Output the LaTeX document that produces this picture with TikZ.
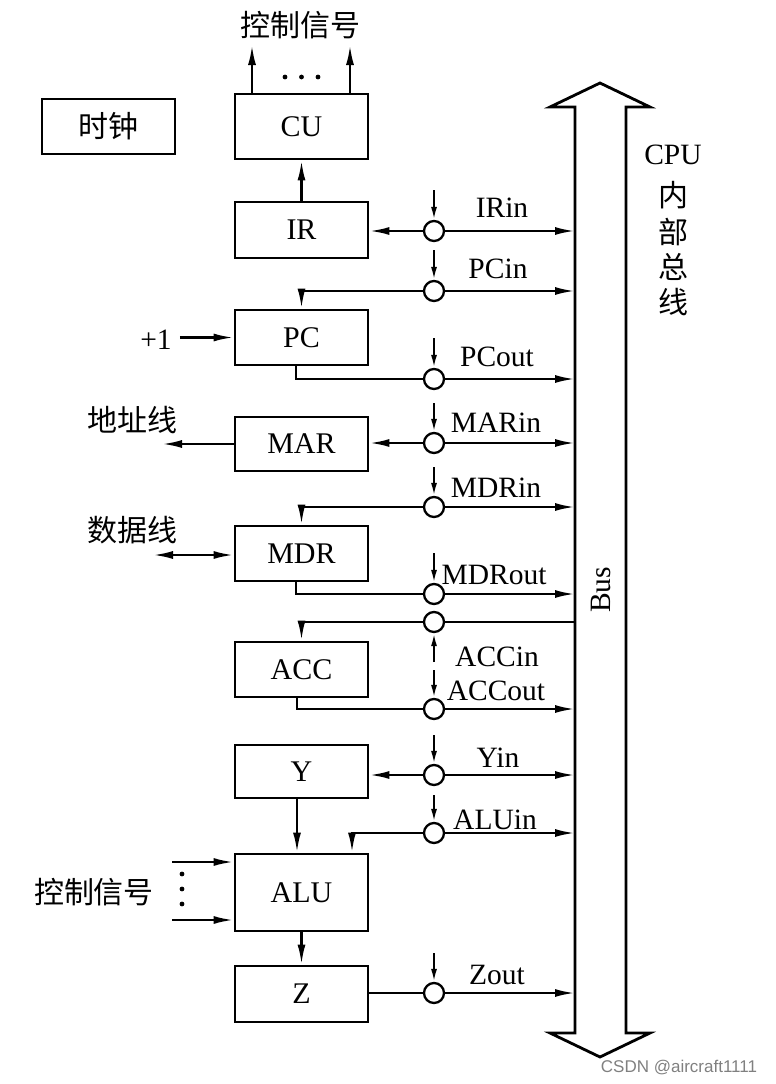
\documentclass[tikz,border=0pt]{standalone}
\usepackage{fontspec}
\setmainfont{Liberation Serif}
\newfontfamily\cjk{Noto Sans CJK SC}
\newfontfamily\wmfont{Liberation Sans}
\usetikzlibrary{arrows.meta}
\begin{document}
\begin{tikzpicture}[x=1pt,y=-1pt,
  box/.style={draw, line width=2.8pt, minimum width=133pt, inner sep=0pt, font=\fontsize{30}{33}\selectfont},
  sw/.style={draw, circle, line width=2.3pt, minimum size=20pt, inner sep=0pt},
  conn/.style={line width=2.4pt},
  arr/.style={conn, -{Latex[length=20pt,width=8pt]}},
  ctl/.style={line width=2pt, -{Latex[length=13pt,width=6pt]}},
  lbl/.style={font=\fontsize{29.5}{32}\selectfont, inner sep=0pt},
  cjkl/.style={font=\cjk\fontsize{30}{33}\selectfont, inner sep=0pt},
]
\useasboundingbox (0,0) rectangle (776,1084);

% bus
\draw[line width=2.8pt, line join=miter] (575,1033) -- (575,107) -- (550,107) -- (600,83) -- (650,107) -- (626,107) -- (626,1033) -- (650,1033) -- (600,1057) -- (550,1033) -- cycle;
\coordinate (busL) at (575,600);
\node[lbl, rotate=90] (buslbl) at (601,590) {Bus};
\node[lbl] (cpu) at (673,155) {CPU};
\node[cjkl] (cpu1) at (673,195) {内};
\node[cjkl] (cpu2) at (673,232) {部};
\node[cjkl] (cpu3) at (673,267) {总};
\node[cjkl] (cpu4) at (673,302) {线};

% boxes
\node[box, minimum height=55pt, font=\cjk\fontsize{30}{33}\selectfont] (clk) at (108.5,126.5) {时钟};
\node[box, minimum height=65pt] (cu) at (301.5,126.5) {CU};
\node[box, minimum height=56pt] (ir) at (301.5,230) {IR};
\node[box, minimum height=55pt] (pc) at (301.5,337.5) {PC};
\node[box, minimum height=54pt] (mar) at (301.5,444) {MAR};
\node[box, minimum height=55pt] (mdr) at (301.5,553.5) {MDR};
\node[box, minimum height=55pt] (acc) at (301.5,669.5) {ACC};
\node[box, minimum height=53pt] (yreg) at (301.5,771.5) {Y};
\node[box, minimum height=77pt] (alu) at (301.5,892.5) {ALU};
\node[box, minimum height=56pt] (zreg) at (301.5,994) {Z};

% switches with control arrows
\foreach \n/\yy/\s in {ir/231/190, pcin/291/250, pcout/379/338, mar/443/403, mdrin/507/467, mdrout/594/553, accout/709/670, y/775/735, alu/833/795, z/993/953}{
  \node[sw] (c\n) at (434,\yy) {};
  \coordinate (k\n) at (434,\s);
  \draw[ctl] (k\n) -- (c\n.north);
}
\node[sw] (caccin) at (434,622) {};
\coordinate (kaccin) at (434,662);
\draw[ctl] (kaccin) -- (caccin.south);

% switch to bus
\foreach \n in {ir,pcin,pcout,mar,mdrin,mdrout,accout,y,alu,z}{
  \draw[arr] (c\n.east) -- (c\n.east -| busL);
}
\draw[conn] (caccin.east) -- (caccin.east -| busL);

% labels
\node[lbl] (lir) at (502,208) {IRin};
\node[lbl] (lpcin) at (498,269) {PCin};
\node[lbl] (lpcout) at (497,357) {PCout};
\node[lbl] (lmar) at (496,423) {MARin};
\node[lbl] (lmdrin) at (496,488) {MDRin};
\node[lbl] (lmdrout) at (494,575) {MDRout};
\node[lbl] (laccin) at (497,657) {ACCin};
\node[lbl] (laccout) at (496,691) {ACCout};
\node[lbl] (ly) at (498,758) {Yin};
\node[lbl] (lalu) at (495,820) {ALUin};
\node[lbl] (lz) at (497,975) {Zout};

% switch to registers
\draw[arr] (cir.west) -- (ir.east |- cir);
\draw[arr] (cpcin.west) -- (pc.north |- cpcin) -- (pc.north);
\draw[conn] ([xshift=-5.5pt]pc.south) |- (cpcout.west);
\draw[arr] (cmar.west) -- (mar.east |- cmar);
\draw[arr] (cmdrin.west) -- (mdr.north |- cmdrin) -- (mdr.north);
\draw[conn] ([xshift=-5.5pt]mdr.south) |- (cmdrout.west);
\draw[arr] (caccin.west) -- (acc.north |- caccin) -- (acc.north);
\draw[conn] ([xshift=-4.5pt]acc.south) |- (caccout.west);
\draw[arr] (cy.west) -- (yreg.east |- cy);
\draw[arr] (calu.west) -- ([xshift=50.5pt]alu.north |- calu) -- ([xshift=50.5pt]alu.north);
\draw[arr] ([xshift=-4.5pt]yreg.south) -- ([xshift=-4.5pt]alu.north);
\draw[arr] (alu.south) -- (zreg.north);
\draw[conn] (zreg.east |- cz) -- (cz.west);

% IR to CU
\draw[arr] (ir.north) -- (cu.south);

% CU control outputs
\coordinate (o1) at (252,45);
\coordinate (o2) at (350,45);
\draw[arr] (cu.north -| o1) -- (o1);
\draw[arr] (cu.north -| o2) -- (o2);
\fill (285,77) circle (2.4) (301.5,77) circle (2.4) (318,77) circle (2.4);
\node[cjkl] (ctop) at (300,25) {控制信号};

% +1
\node[lbl] (plus) at (156,340) {+1};
\draw[arr] ([xshift=8pt]plus.east |- pc.west) -- (pc.west);

% address / data lines
\coordinate (addr) at (162,444);
\draw[arr] (mar.west |- addr) -- (addr);
\node[cjkl] (laddr) at (132,420) {地址线};
\coordinate (data) at (153,555);
\draw[conn, {Latex[length=20pt,width=8pt]}-{Latex[length=20pt,width=8pt]}] (data) -- (mdr.west |- data);
\node[cjkl] (ldata) at (132,530) {数据线};

% ALU control
\coordinate (a1) at (172,862);
\coordinate (a2) at (172,920);
\draw[arr] (a1) -- (alu.west |- a1);
\draw[arr] (a2) -- (alu.west |- a2);
\fill (182,874) circle (2.4) (182,889) circle (2.4) (182,904) circle (2.4);
\node[cjkl] (lalc) at (94,892) {控制信号};

% watermark
\node[font=\wmfont\fontsize{17}{20}\selectfont, text=black!50, inner sep=0pt] (wm) at (679,1068) {CSDN @aircraft1111};
\end{tikzpicture}
\end{document}
